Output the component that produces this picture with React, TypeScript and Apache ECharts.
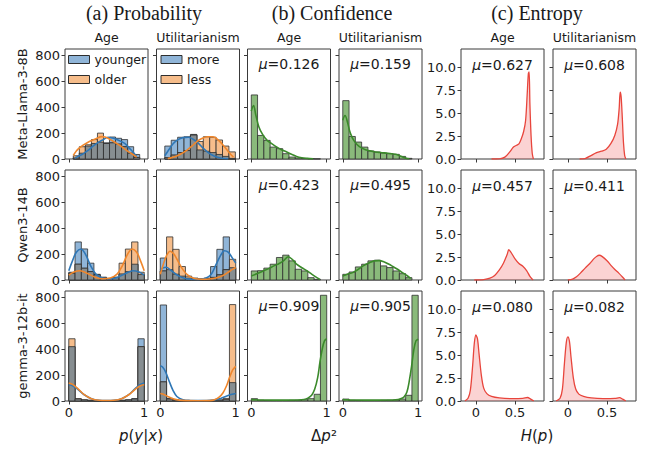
import React, { useEffect, useRef } from "react";
import * as echarts from "echarts";

// ---------------- texts ----------------
const sectionTitles = ["(a) Probability", "(b) Confidence", "(c) Entropy"];
const columnTitles = ["Age", "Utilitarianism", "Age", "Utilitarianism", "Age", "Utilitarianism"];
const models = ["Meta-Llama-3-8B", "Qwen3-14B", "gemma-3-12b-it"];
const ageLegend = ["younger", "older"];
const utilLegend = ["more", "less"];

// ---------------- ticks ----------------
const probYTicks = [0, 200, 400, 600, 800];
const unitXTicks = [0, 1];
const entropyYTicks = [0, 2.5, 5, 7.5, 10];
const entropyXTicks = [0, 0.5];

// ---------------- means ----------------
const confMeans = [[0.126, 0.159], [0.423, 0.495], [0.909, 0.905]];
const entropyMeans = [[0.627, 0.608], [0.457, 0.411], [0.080, 0.082]];

// ---------------- (a) probability histograms: [binStart, binWidth] and counts ----------------
const llamaAgeBin = [0.06, 0.08];
const llamaAgeYounger = [8, 45, 100, 120, 130, 125, 170, 160, 150, 95, 35];
const llamaAgeOlder = [25, 95, 110, 150, 200, 120, 125, 115, 95, 45, 12];
const llamaUtilBin = [0.06, 0.085];
const llamaUtilMore = [100, 145, 168, 172, 190, 70, 60, 50, 35, 20, 5];
const llamaUtilLess = [10, 30, 50, 65, 185, 135, 172, 168, 147, 100, 55];

const qwenAgeBin = [0, 1 / 12];
const qwenAgeYounger = [60, 294, 240, 130, 44, 22, 10, 18, 47, 65, 122, 42];
const qwenAgeOlder = [52, 122, 91, 65, 40, 18, 10, 22, 130, 239, 294, 60];
const qwenUtilBin = [0, 1 / 12];
const qwenUtilMore = [170, 80, 45, 30, 15, 10, 8, 15, 104, 237, 333, 95];
const qwenUtilLess = [70, 333, 237, 104, 30, 15, 8, 10, 20, 40, 80, 160];

const gemmaAgeBin = [0, 1 / 12];
const gemmaAgeYounger = [420, 15, 8, 5, 3, 2, 2, 3, 5, 8, 18, 481];
const gemmaAgeOlder = [481, 18, 8, 5, 3, 2, 2, 3, 5, 8, 15, 420];
const gemmaUtilBin = [0, 1 / 12];
const gemmaUtilMore = [742, 20, 8, 4, 3, 2, 2, 3, 4, 6, 12, 142];
const gemmaUtilLess = [148, 15, 6, 4, 3, 2, 2, 3, 4, 8, 20, 745];

// ---------------- (a) probability KDE curves ----------------
const llamaAgeYoungerKde = [[0.08, 8], [0.14, 25], [0.19, 40], [0.26, 68], [0.32, 99], [0.38, 125], [0.45, 147], [0.52, 168], [0.58, 162], [0.63, 152], [0.69, 136], [0.74, 120], [0.79, 92], [0.83, 67], [0.87, 40], [0.9, 19]];
const llamaAgeOlderKde = [[0.06, 27], [0.1, 62], [0.15, 90], [0.19, 107], [0.25, 128], [0.32, 147], [0.38, 162], [0.43, 173], [0.48, 170], [0.52, 160], [0.6, 133], [0.67, 107], [0.74, 78], [0.8, 53], [0.87, 27], [0.9, 15]];
const llamaUtilMoreKde = [[0.06, 25], [0.1, 60], [0.17, 118], [0.23, 148], [0.3, 165], [0.37, 168], [0.43, 155], [0.5, 125], [0.57, 82], [0.64, 48], [0.72, 22], [0.8, 8], [0.9, 2]];
const llamaUtilLessKde = [[0.1, 3], [0.17, 13], [0.26, 35], [0.35, 67], [0.42, 100], [0.48, 133], [0.55, 158], [0.62, 172], [0.7, 172], [0.78, 140], [0.85, 95], [0.92, 45], [0.97, 15]];

const qwenAgeYoungerKde = [[0, 72], [0.05, 150], [0.1, 215], [0.16, 240], [0.22, 200], [0.29, 110], [0.36, 45], [0.45, 15], [0.55, 10], [0.65, 22], [0.75, 50], [0.85, 72], [0.93, 62], [1.0, 38]];
const qwenAgeOlderKde = [[0, 38], [0.07, 62], [0.15, 72], [0.25, 50], [0.35, 22], [0.45, 10], [0.55, 15], [0.64, 45], [0.71, 110], [0.78, 200], [0.84, 240], [0.9, 215], [0.95, 150], [1.0, 72]];
const qwenUtilMoreKde = [[0, 75], [0.04, 95], [0.08, 98], [0.13, 80], [0.19, 52], [0.25, 30], [0.32, 14], [0.4, 6], [0.5, 5], [0.6, 14], [0.67, 40], [0.74, 120], [0.8, 190], [0.85, 226], [0.9, 215], [0.95, 175], [1.0, 130]];
const qwenUtilLessKde = [[0, 45], [0.04, 120], [0.08, 185], [0.13, 222], [0.18, 200], [0.24, 140], [0.3, 80], [0.37, 35], [0.45, 12], [0.55, 6], [0.65, 8], [0.75, 18], [0.83, 35], [0.9, 60], [0.95, 80], [1.0, 97]];

const gemmaAgeYoungerKde = [[0, 125], [0.05, 118], [0.12, 90], [0.2, 50], [0.3, 18], [0.4, 6], [0.5, 4], [0.6, 6], [0.7, 18], [0.8, 52], [0.88, 95], [0.95, 128], [1.0, 138]];
const gemmaAgeOlderKde = [[0, 138], [0.05, 128], [0.12, 95], [0.2, 52], [0.3, 18], [0.4, 6], [0.5, 4], [0.6, 6], [0.7, 18], [0.8, 50], [0.88, 90], [0.95, 118], [1.0, 125]];
const gemmaUtilMoreKde = [[0, 272], [0.03, 262], [0.07, 225], [0.12, 150], [0.17, 80], [0.22, 35], [0.3, 10], [0.4, 4], [0.5, 3], [0.6, 4], [0.7, 8], [0.8, 20], [0.88, 38], [0.95, 52], [1.0, 58]];
const gemmaUtilLessKde = [[0, 58], [0.05, 50], [0.1, 35], [0.17, 18], [0.25, 7], [0.35, 3], [0.5, 2], [0.65, 3], [0.72, 10], [0.78, 30], [0.83, 62], [0.88, 120], [0.92, 185], [0.96, 240], [1.0, 268]];

// ---------------- (b) confidence histograms (12 bins on [0,1]) ----------------
const confBin = [0, 1 / 12];
const confLlamaAge = [495, 182, 144, 92, 80, 41, 15, 8, 4, 2, 1, 0];
const confLlamaUtil = [451, 174, 131, 92, 62, 54, 46, 41, 36, 20, 5, 0];
const confQwenAge = [70, 72, 92, 122, 174, 192, 148, 83, 70, 18, 5, 0];
const confQwenUtil = [44, 62, 101, 122, 148, 153, 109, 96, 70, 49, 18, 0];
const confGemmaAge = [18, 6, 4, 4, 4, 4, 5, 6, 10, 18, 52, 817];
const confGemmaUtil = [15, 5, 4, 4, 4, 4, 5, 6, 8, 15, 44, 817];

const confLlamaAgeKde = [[0.0, 370], [0.03, 413], [0.06, 340], [0.1, 250], [0.15, 190], [0.21, 144], [0.28, 115], [0.34, 92], [0.4, 72], [0.47, 54], [0.54, 35], [0.6, 20], [0.67, 10], [0.74, 5], [0.82, 1]];
const confLlamaUtilKde = [[0.0, 300], [0.03, 336], [0.06, 290], [0.1, 200], [0.15, 140], [0.22, 95], [0.3, 72], [0.4, 58], [0.5, 50], [0.6, 44], [0.7, 36], [0.77, 22], [0.83, 8], [0.88, 2]];
const confQwenAgeKde = [[0, 31], [0.08, 50], [0.16, 70], [0.23, 88], [0.3, 109], [0.37, 128], [0.43, 150], [0.49, 180], [0.55, 155], [0.6, 122], [0.67, 95], [0.74, 70], [0.8, 45], [0.87, 18], [0.91, 5]];
const confQwenUtilKde = [[0, 31], [0.06, 45], [0.13, 57], [0.2, 80], [0.27, 109], [0.35, 132], [0.42, 148], [0.48, 150], [0.55, 140], [0.6, 125], [0.65, 109], [0.72, 85], [0.79, 57], [0.85, 35], [0.9, 13]];
const confGemmaAgeKde = [[0, 12], [0.05, 10], [0.15, 8], [0.3, 7], [0.45, 7], [0.6, 8], [0.7, 12], [0.75, 22], [0.8, 45], [0.84, 90], [0.88, 180], [0.91, 300], [0.94, 400], [0.97, 465], [1.0, 481]];
const confGemmaUtilKde = [[0, 12], [0.05, 10], [0.15, 8], [0.3, 7], [0.45, 7], [0.6, 8], [0.7, 10], [0.76, 16], [0.81, 30], [0.85, 70], [0.88, 150], [0.91, 260], [0.94, 390], [0.97, 465], [1.0, 478]];

// ---------------- (c) entropy densities ----------------
const entLlamaAge = [[0.2, 0], [0.3, 0.02], [0.37, 0.2], [0.43, 0.75], [0.48, 1.3], [0.52, 1.5], [0.55, 1.65], [0.58, 2.2], [0.61, 3.0], [0.635, 4.2], [0.655, 7], [0.67, 9.3], [0.68, 9.5], [0.69, 6], [0.705, 2.5], [0.72, 0.6], [0.735, 0]];
const entLlamaUtil = [[0.15, 0], [0.22, 0.05], [0.3, 0.4], [0.36, 0.66], [0.43, 0.85], [0.49, 1.06], [0.55, 1.7], [0.6, 2.6], [0.635, 3.8], [0.655, 5.5], [0.668, 7.3], [0.68, 6.8], [0.695, 4.5], [0.71, 1.8], [0.725, 0.4], [0.74, 0]];
const entQwenAge = [[-0.02, 0], [0.1, 0.05], [0.18, 0.2], [0.24, 0.5], [0.3, 1.1], [0.35, 1.8], [0.4, 2.8], [0.42, 3.3], [0.45, 3.0], [0.5, 2.3], [0.55, 1.8], [0.6, 1.5], [0.65, 1.0], [0.69, 0.4], [0.73, 0]];
const entQwenUtil = [[0.0, 0], [0.06, 0.1], [0.11, 0.35], [0.16, 0.75], [0.22, 1.3], [0.28, 1.8], [0.33, 2.3], [0.37, 2.6], [0.4, 2.7], [0.44, 2.55], [0.5, 2.1], [0.55, 1.6], [0.6, 1.15], [0.65, 0.75], [0.7, 0.3], [0.73, 0]];
const entGemmaAge = [[-0.14, 0], [-0.1, 0.3], [-0.07, 1.2], [-0.04, 4.0], [-0.02, 6.3], [0.0, 7.2], [0.02, 6.8], [0.04, 5.2], [0.07, 2.8], [0.1, 1.4], [0.14, 0.8], [0.2, 0.5], [0.3, 0.33], [0.45, 0.26], [0.6, 0.28], [0.66, 0.38], [0.7, 0.2], [0.74, 0]];
const entGemmaUtil = [[-0.15, 0], [-0.1, 0.3], [-0.07, 1.3], [-0.045, 4.0], [-0.02, 6.4], [0.0, 7.0], [0.02, 6.5], [0.04, 4.8], [0.07, 2.5], [0.1, 1.3], [0.14, 0.75], [0.2, 0.5], [0.3, 0.33], [0.45, 0.26], [0.6, 0.28], [0.66, 0.36], [0.7, 0.2], [0.74, 0]];

// ---------------- styling / layout ----------------
const FONT = "'DejaVu Sans', sans-serif";
const SERIF = "'Liberation Serif', 'Times New Roman', serif";
const BLUE_FILL = "#90b5d8";
const ORANGE_FILL = "#f6bd8b";
const GRAY_FILL = "#878e91";
const BLUE_LINE = "#2f77b6";
const ORANGE_LINE = "#f0872c";
const GREEN_FILL = "#8aba7b";
const GREEN_LINE = "#3b8a2b";
const RED_LINE = "#e8453c";
const RED_FILL = "rgba(238, 80, 80, 0.36)";
const EDGE = "#2e2e2e";
const FRAME = "#3a3a3a";
const TEXT = "#1a1a1a";

const rowTop = [49, 170, 291];
const rowH = 110;
const colLeft = [65, 156.5, 247.5, 339, 461, 553];
const colW = 83;
const unitRange = [-0.05, 1.05];
const entRange = [-0.19, 0.87];
const countMax = 850;
const densityMax = 12;

const toBins = (spec: number[], counts: number[]) =>
  counts.map((h, i) => [spec[0] + i * spec[1], spec[0] + (i + 1) * spec[1], h]);

const rectRenderer = (fill: string) => (_p: any, api: any) => {
  const x0 = api.value(0);
  const x1 = api.value(1);
  const h = api.value(2);
  if (!(h > 0)) return null;
  const a = api.coord([x0, 0]);
  const b = api.coord([x1, h]);
  return {
    type: "rect",
    shape: { x: a[0], y: b[1], width: b[0] - a[0], height: a[1] - b[1] },
    style: { fill, stroke: EDGE, lineWidth: 0.8 },
  };
};

function muText(x: number, y: number, v: number) {
  return {
    type: "text", x, y, z: 0, silent: true,
    style: {
      text: "{i|μ}{n|=" + v.toFixed(3) + "}",
      rich: {
        i: { fontSize: 14, fontFamily: FONT, fill: TEXT, fontStyle: "italic" },
        n: { fontSize: 14, fontFamily: FONT, fill: TEXT },
      },
      fontSize: 14, fontFamily: FONT, fill: TEXT, align: "center", verticalAlign: "middle",
    },
  };
}

function buildOption() {
  const probPanels = [
    [
      { bin: llamaAgeBin, a: llamaAgeYounger, b: llamaAgeOlder, ka: llamaAgeYoungerKde, kb: llamaAgeOlderKde, names: ageLegend },
      { bin: llamaUtilBin, a: llamaUtilMore, b: llamaUtilLess, ka: llamaUtilMoreKde, kb: llamaUtilLessKde, names: utilLegend },
    ],
    [
      { bin: qwenAgeBin, a: qwenAgeYounger, b: qwenAgeOlder, ka: qwenAgeYoungerKde, kb: qwenAgeOlderKde, names: ageLegend },
      { bin: qwenUtilBin, a: qwenUtilMore, b: qwenUtilLess, ka: qwenUtilMoreKde, kb: qwenUtilLessKde, names: utilLegend },
    ],
    [
      { bin: gemmaAgeBin, a: gemmaAgeYounger, b: gemmaAgeOlder, ka: gemmaAgeYoungerKde, kb: gemmaAgeOlderKde, names: ageLegend },
      { bin: gemmaUtilBin, a: gemmaUtilMore, b: gemmaUtilLess, ka: gemmaUtilMoreKde, kb: gemmaUtilLessKde, names: utilLegend },
    ],
  ];
  const confPanels = [
    [{ h: confLlamaAge, k: confLlamaAgeKde }, { h: confLlamaUtil, k: confLlamaUtilKde }],
    [{ h: confQwenAge, k: confQwenAgeKde }, { h: confQwenUtil, k: confQwenUtilKde }],
    [{ h: confGemmaAge, k: confGemmaAgeKde }, { h: confGemmaUtil, k: confGemmaUtilKde }],
  ];
  const entPanels = [
    [entLlamaAge, entLlamaUtil],
    [entQwenAge, entQwenUtil],
    [entGemmaAge, entGemmaUtil],
  ];

  const grid: any[] = [];
  const xAxis: any[] = [];
  const yAxis: any[] = [];
  const series: any[] = [];
  const graphic: any[] = [];

  for (let r = 0; r < 3; r++) {
    for (let c = 0; c < 6; c++) {
      const gi = r * 6 + c;
      const isEnt = c >= 4;
      grid.push({
        left: colLeft[c], top: rowTop[r], width: colW, height: rowH,
        show: true, borderColor: FRAME, borderWidth: 1, backgroundColor: "transparent",
      });
      const xt = isEnt ? entropyXTicks : unitXTicks;
      xAxis.push({
        gridIndex: gi, type: "value", position: "bottom",
        min: isEnt ? entRange[0] : unitRange[0], max: isEnt ? entRange[1] : unitRange[1],
        axisLine: { show: false, onZero: false }, splitLine: { show: false },
        axisTick: { show: true, length: 3.5, lineStyle: { color: FRAME, width: 1 }, customValues: xt },
        axisLabel: {
          show: r === 2, customValues: xt, margin: 5, fontSize: 13, color: TEXT, fontFamily: FONT,
          formatter: (v: number) => String(v),
        },
      });
      const yt = isEnt ? entropyYTicks : probYTicks;
      yAxis.push({
        gridIndex: gi, type: "value", position: "left", min: 0, max: isEnt ? densityMax : countMax,
        axisLine: { show: false, onZero: false }, splitLine: { show: false },
        axisTick: { show: true, length: 3.5, lineStyle: { color: FRAME, width: 1 }, customValues: yt },
        axisLabel: {
          show: c === 0 || c === 4, customValues: yt, margin: 5, fontSize: 13, color: TEXT, fontFamily: FONT,
          formatter: (v: number) => (isEnt ? v.toFixed(1) : String(v)),
        },
      });

      if (c < 2) {
        const p = probPanels[r][c];
        const binsA = toBins(p.bin, p.a);
        const binsB = toBins(p.bin, p.b);
        const binsMin = toBins(p.bin, p.a.map((v, i) => Math.min(v, p.b[i])));
        series.push(
          { type: "custom", name: p.names[0], xAxisIndex: gi, yAxisIndex: gi, z: 2, silent: true,
            data: binsA, encode: { x: [0, 1], y: 2 }, itemStyle: { color: BLUE_FILL }, renderItem: rectRenderer(BLUE_FILL) },
          { type: "custom", name: p.names[1], xAxisIndex: gi, yAxisIndex: gi, z: 3, silent: true,
            data: binsB, encode: { x: [0, 1], y: 2 }, itemStyle: { color: ORANGE_FILL }, renderItem: rectRenderer(ORANGE_FILL) },
          { type: "custom", name: "overlap", xAxisIndex: gi, yAxisIndex: gi, z: 4, silent: true,
            data: binsMin, encode: { x: [0, 1], y: 2 }, itemStyle: { color: GRAY_FILL }, renderItem: rectRenderer(GRAY_FILL) },
          { type: "line", name: p.names[0] + " kde", xAxisIndex: gi, yAxisIndex: gi, z: 6, silent: true,
            data: p.ka, smooth: 0.35, symbol: "none", lineStyle: { color: BLUE_LINE, width: 1.6 } },
          { type: "line", name: p.names[1] + " kde", xAxisIndex: gi, yAxisIndex: gi, z: 6, silent: true,
            data: p.kb, smooth: 0.35, symbol: "none", lineStyle: { color: ORANGE_LINE, width: 1.6 } },
        );
      } else if (c < 4) {
        const p = confPanels[r][c - 2];
        series.push(
          { type: "custom", name: "confidence", xAxisIndex: gi, yAxisIndex: gi, z: 3, silent: true,
            data: toBins(confBin, p.h), encode: { x: [0, 1], y: 2 }, itemStyle: { color: GREEN_FILL }, renderItem: rectRenderer(GREEN_FILL) },
          { type: "line", name: "confidence kde", xAxisIndex: gi, yAxisIndex: gi, z: 6, silent: true,
            data: p.k, smooth: 0.35, symbol: "none", lineStyle: { color: GREEN_LINE, width: 1.6 } },
        );
        graphic.push(muText(colLeft[c] + colW / 2, rowTop[r] + 15, confMeans[r][c - 2]));
      } else {
        series.push({
          type: "line", name: "entropy", xAxisIndex: gi, yAxisIndex: gi, z: 6, silent: true,
          data: entPanels[r][c - 4], smooth: 0.3, symbol: "none",
          lineStyle: { color: RED_LINE, width: 1.3 }, areaStyle: { color: RED_FILL },
        });
        graphic.push(muText(colLeft[c] + colW / 2, rowTop[r] + 16, entropyMeans[r][c - 4]));
      }
    }
  }

  // section titles
  const sectionX = [144, 332, 537];
  sectionTitles.forEach((t, i) =>
    graphic.push({ type: "text", x: sectionX[i], y: 13, silent: true,
      style: { text: t, fontSize: 20, fontFamily: SERIF, fill: TEXT, align: "center", verticalAlign: "middle" } }));
  // column titles
  columnTitles.forEach((t, c) =>
    graphic.push({ type: "text", x: colLeft[c] + colW / 2, y: 37, silent: true,
      style: { text: t, fontSize: 12.5, fontFamily: FONT, fill: TEXT, align: "center", verticalAlign: "middle" } }));
  // row labels
  models.forEach((m, r) =>
    graphic.push({ type: "text", x: 22, y: rowTop[r] + rowH / 2, rotation: Math.PI / 2, silent: true,
      style: { text: m, fontSize: 13, fontFamily: FONT, fill: TEXT, align: "center", verticalAlign: "middle" } }));
  // x-axis titles
  const rich = {
    n: { fontSize: 15, fontFamily: FONT, fill: TEXT },
    i: { fontSize: 15, fontFamily: FONT, fill: TEXT, fontStyle: "italic" },
  };
  const xTitles = [
    { x: 141, text: "{i|p}{n|(}{i|y}{n||}{i|x}{n|)}" },
    { x: 324, text: "{n|Δ}{i|p}{n|²}" },
    { x: 537, text: "{i|H}{n|(}{i|p}{n|)}" },
  ];
  xTitles.forEach((t) =>
    graphic.push({ type: "text", x: t.x, y: 436, silent: true,
      style: { text: t.text, rich, fontSize: 15, fontFamily: FONT, fill: TEXT, align: "center", verticalAlign: "middle" } }));

  const legendBase = {
    orient: "vertical", padding: 0, itemWidth: 21, itemHeight: 8, itemGap: 7, icon: "rect",
    selectedMode: false, textStyle: { fontSize: 12.5, color: TEXT, fontFamily: FONT },
  };
  const legend = [
    { ...legendBase, left: 68, top: 53,
      data: [
        { name: ageLegend[0], itemStyle: { color: BLUE_FILL, borderColor: EDGE, borderWidth: 1 } },
        { name: ageLegend[1], itemStyle: { color: ORANGE_FILL, borderColor: EDGE, borderWidth: 1 } },
      ] },
    { ...legendBase, left: 160.5, top: 53,
      data: [
        { name: utilLegend[0], itemStyle: { color: BLUE_FILL, borderColor: EDGE, borderWidth: 1 } },
        { name: utilLegend[1], itemStyle: { color: ORANGE_FILL, borderColor: EDGE, borderWidth: 1 } },
      ] },
  ];

  return {
    animation: false,
    backgroundColor: "#ffffff",
    textStyle: { fontFamily: FONT },
    grid, xAxis, yAxis, series, legend, graphic,
  };
}

export default function App() {
  const ref = useRef<HTMLDivElement>(null);
  useEffect(() => {
    if (!ref.current) return;
    const chart = echarts.init(ref.current, undefined, { renderer: "svg" });
    chart.setOption(buildOption() as any);
    return () => chart.dispose();
  }, []);
  return (
    <div
      ref={ref}
      style={{ position: "fixed", left: 0, top: 0, width: 650, height: 450, background: "#fff" }}
    />
  );
}
